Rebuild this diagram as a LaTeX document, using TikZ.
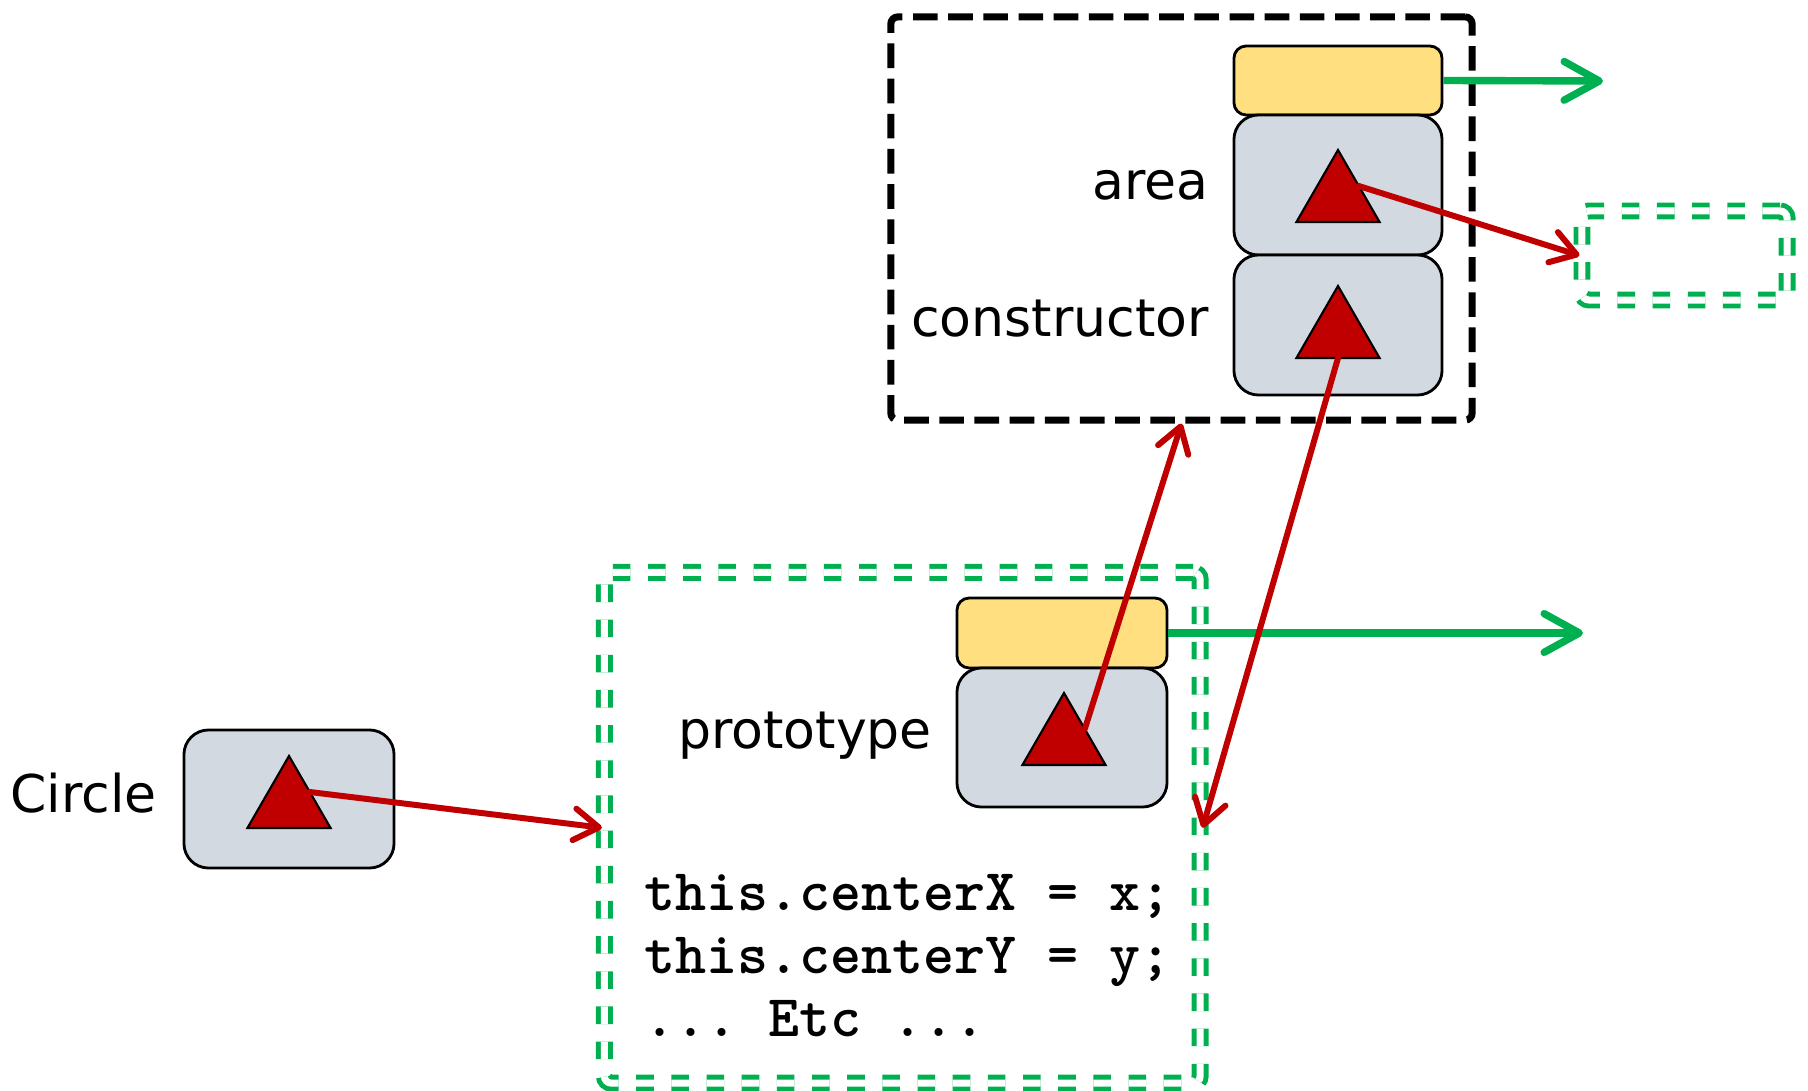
\documentclass[tikz,border=0pt]{standalone}
\usepackage{fontspec}
\usetikzlibrary{arrows.meta,positioning,shapes.geometric}
\newfontfamily\labelfont{DejaVu Sans}
\definecolor{slotgray}{HTML}{D2D9E1}
\definecolor{tagyellow}{HTML}{FFDF80}
\definecolor{refred}{HTML}{C00000}
\definecolor{protogreen}{HTML}{00B050}
\tikzset{
  slot/.style={draw, line width=0.8pt, fill=slotgray, rounded corners=7pt,
    minimum width=2.08cm, minimum height=1.40cm, inner sep=0pt},
  tag/.style={draw, line width=0.8pt, fill=tagyellow, rounded corners=3.5pt,
    minimum width=2.08cm, minimum height=0.69cm, inner sep=0pt},
  tri/.style={regular polygon, regular polygon sides=3, draw, line width=0.6pt,
    fill=refred, minimum size=0.96cm, inner sep=0pt, outer sep=0pt},
  lbl/.style={font=\labelfont\fontsize{14.8pt}{17pt}\selectfont, inner sep=0pt},
  code/.style={font=\ttfamily\bfseries\fontsize{16.8pt}{17.9pt}\selectfont\frenchspacing,
    align=left, inner sep=0pt},
  objframe/.style={draw, line width=2pt, dash pattern=on 7pt off 3pt, rounded corners=2pt},
  protoframe/.style={draw=protogreen, line width=1.4pt, double=white, double distance=2pt,
    dash pattern=on 5pt off 5pt, rounded corners=2pt},
  ref/.style={draw=refred, line width=1.7pt, line cap=round,
    -{Straight Barb[length=7pt,width=9pt,round]}},
  link/.style={draw=protogreen, line width=2.1pt,
    -{Straight Barb[length=10pt,width=11pt,round]}}
}
\begin{document}
\begin{tikzpicture}[x=0.01cm, y=-0.01cm]
\useasboundingbox (0,0) rectangle (1808,1091);
% frames
\node[objframe, minimum width=5.81cm, minimum height=4.03cm] (objbox) at (1181.5,218.5) {};
\node[protoframe, minimum width=5.955cm, minimum height=5.105cm] (protobox) at (902.25,827.75) {};
\node[protoframe, minimum width=2.05cm, minimum height=0.89cm] (nextbox) at (1684.5,255.5) {};
% the object with area and constructor
\node[tag] (areatag) at (1338,80.5) {};
\node[slot] (areaslot) at (1338,185) {};
\node[slot] (ctorslot) at (1338,325) {};
\node[tri] (areatri) at (1338,198) {};
\node[tri] (ctortri) at (1338,334) {};
\node[lbl, left=0.23cm of areaslot] (arealbl) {area};
\node[lbl, left=0.23cm of ctorslot, yshift=1.7pt] (ctorlbl) {constructor};
% prototype object
\node[tag, minimum width=2.10cm, minimum height=0.70cm] (prototag) at (1062,633) {};
\node[slot, minimum width=2.10cm, minimum height=1.39cm] (protoslot) at (1062,737.5) {};
\node[tri] (prototri) at (1064,741) {};
\node[lbl, left=0.23cm of protoslot, yshift=0.6pt] (protolbl) {prototype};
\node[code, anchor=north west] (body) at (644,874) {this.centerX = x;\\this.centerY = y;\\... Etc ...};
% Circle
\node[slot, minimum width=2.10cm, minimum height=1.38cm] (circslot) at (289,799) {};
\node[tri] (circtri) at (289,804) {};
\node[lbl, left=0.25cm of circslot, yshift=1.7pt] (circlbl) {Circle};
% links
\coordinate (areanext) at (1603,81);
\coordinate (protonext) at (1583,633);
\draw[link] (areatag.east) -- (areanext);
\draw[link] (prototag.east) -- (protonext);
\draw[ref] (circtri.side 3) -- (protobox.west);
\draw[ref] (prototri.side 3) -- (objbox.south);
\draw[ref] (ctortri.south) -- (protobox.east);
\draw[ref] (areatri.side 3) -- (nextbox.west);
\end{tikzpicture}
\end{document}
